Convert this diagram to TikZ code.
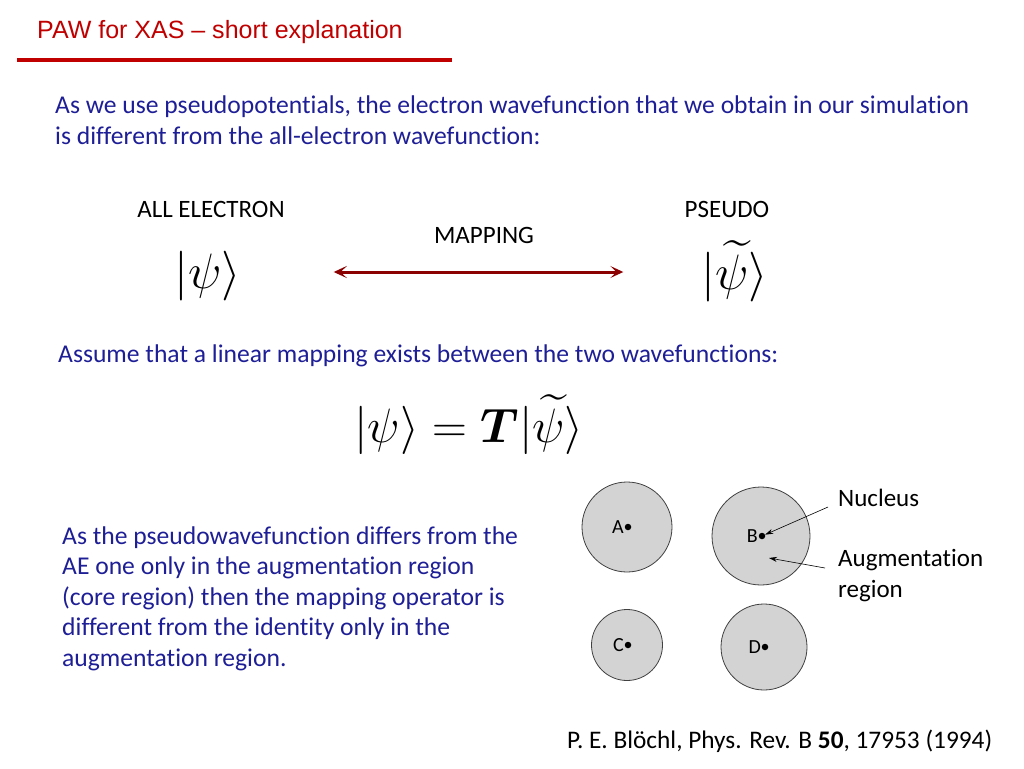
\documentclass[tikz,border=0pt]{standalone}
\usepackage{amsmath}
\usepackage{fontspec}
\setmainfont[Ligatures={TeX,NoCommon}]{Carlito}
\newfontfamily\titlefont[Ligatures=TeX]{Liberation Sans}
\usetikzlibrary{arrows.meta, positioning, calc}
\definecolor{titlered}{RGB}{192,0,0}
\definecolor{textblue}{RGB}{30,30,150}
\definecolor{maparrow}{RGB}{139,0,0}
\definecolor{regiongray}{RGB}{211,211,211}

\begin{document}
\begin{tikzpicture}[
                    x=1pt, y=-1pt,
                    >=Stealth,
                    body/.style={inner sep=0pt, anchor=base west, align=left, text=textblue, font=\fontsize{25.6}{30.5}\selectfont},
                    heading/.style={inner sep=0pt, anchor=base, font=\fontsize{25}{30}\selectfont},
                    ketnode/.style={inner sep=0pt, font=\Huge, scale=2},
                    region/.style={circle, draw=black!75, fill=regiongray, line width=0.8pt, inner sep=0pt},
                    atomdot/.style={circle, fill=black, inner sep=0pt, minimum size=6.5pt},
                    atomname/.style={anchor=east, inner sep=0pt, font=\fontsize{20}{20}\selectfont},
                    pointer/.style={->, >={Stealth[length=8pt, width=5pt]}, line width=0.6pt},
                ]
                \useasboundingbox (0,0) rectangle (1024,768);
                % title
                \node[anchor=base west, inner sep=0pt, text=titlered, font=\titlefont\fontsize{25}{30}\selectfont] (title) at (37,39) {PAW for XAS – short explanation};
                \draw[titlered, line width=3pt] (17,60) -- (452,60);

                \node[body] (intro) at (55,144) {As we use pseudopotentials, the electron wavefunction that we obtain in our simulation\\is different from the all-electron wavefunction:};

                % the two wavefunctions
                \node[heading] (aelabel) at (211,217) {ALL ELECTRON};
                \node[heading] (pslabel) at (727,217) {PSEUDO};
                \node[heading] (maplabel) at (484,243) {MAPPING};
                \node[ketnode] (ae) at (208,276) {$|\psi\rangle$};
                \node[ketnode, anchor=south] (ps) at (735,302) {$|\widetilde{\psi}\rangle$};
                \draw[<->, >={Stealth[length=13pt, width=12pt, inset=6pt]}, maparrow, line width=3pt, shorten <=92pt, shorten >=78pt] ([yshift=4pt]ae.east) -- ([yshift=4pt]ae.east -| ps.west);

                \node[body] (assume) at (58,362) {Assume that a linear mapping exists between the two wavefunctions:};
                \node[ketnode, scale=0.97, anchor=south] (eq) at (469,455) {$|\psi\rangle = \boldsymbol{T}|\widetilde{\psi}\rangle$};

                \node[body] (augtext) at (62,666) {As the pseudowavefunction differs from the\\AE one only in the augmentation region\\(core region) then the mapping operator is\\different from the identity only in the\\augmentation region.};

                % atoms and their augmentation spheres
                \node[region, minimum size=90pt] (sa) at (627,527) {};
                \node[region, minimum size=98pt] (sb) at (761,536) {};
                \node[region, minimum size=71pt] (sc) at (627,645) {};
                \node[region, minimum size=86pt] (sd) at (764,647) {};
                \foreach \n/\t in {a/A, b/B, c/C, d/D} {
                    \node[atomdot] (dot\n) at ([xshift=1pt]s\n.center) {};
                    \node[atomname] (name\n) at ([xshift=-4pt]dot\n.center) {\t};
                }

                \node[anchor=base west, inner sep=0pt, font=\fontsize{25}{31}\selectfont] (nucleus) at (838,506) {Nucleus};
                \node[anchor=base west, inner sep=0pt, align=left, font=\fontsize{25}{31}\selectfont] (augment) at (838,597) {Augmentation\\region};
                \coordinate (nuctail) at (828,507);
                \coordinate (augtail) at (825,568);
                \coordinate (augtip) at (769,558);
                \draw[pointer] (nuctail) -- (dotb);
                \draw[pointer] (augtail) -- (augtip);

                \node[anchor=base west, inner sep=0pt, font=\fontsize{25.3}{30}\selectfont] (cite) at (567,748) {P. E. Bl\"ochl, Phys. Rev. B \textbf{50}, 17953 (1994)};
\end{tikzpicture}
\end{document}
